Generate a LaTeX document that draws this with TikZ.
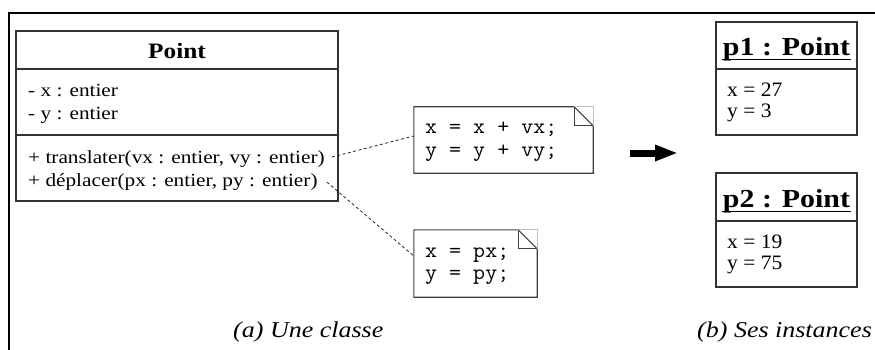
\documentclass[tikz,border=0pt]{standalone}
\usepackage{fontspec}
\setmainfont{Liberation Serif}
\usetikzlibrary{arrows.meta}
\newcommand{\sx}[1]{\scalebox{1.15}[1]{#1}}
\newcommand{\sxc}[1]{\scalebox{1.06}[1]{#1}}
\newcommand{\sxi}[1]{\scalebox{1.05}[1]{#1}}
\tikzset{
  box/.style={draw=black!80, line width=1.1pt, inner sep=0pt, rectangle},
  notebox/.style={draw=black!75, line width=1.1pt},
  faint/.style={draw=black!25, line width=0.8pt},
  txt/.style={anchor=base west, inner sep=0pt, font=\fontsize{18.5}{22}\selectfont},
  itxt/.style={anchor=base west, inner sep=0pt, font=\fontsize{20.5}{24}\selectfont},
  code/.style={anchor=base west, inner sep=0pt, font=\ttfamily\fontsize{22}{26}\selectfont},
  link/.style={draw=black!85, line width=0.8pt, dash pattern=on 3pt off 2.5pt},
  title/.style={anchor=base, inner sep=0pt, font=\bfseries\fontsize{22}{26}\selectfont},
  ititle/.style={anchor=base, inner sep=0pt, font=\bfseries\fontsize{26}{30}\selectfont},
  caption/.style={anchor=base west, inner sep=0pt, font=\itshape\fontsize{22.6}{26}\selectfont},
}
\begin{document}
\begin{tikzpicture}[x=1pt,y=-1pt]
\useasboundingbox (0,0) rectangle (875,350);
% frame
\coordinate (frA) at (875,13);
\coordinate (frB) at (9,13);
\coordinate (frC) at (9,350);
\draw[line width=2.5pt] (frA) -- (frB) -- (frC);

% class Point
\node[box, minimum width=322pt, minimum height=38pt] (cname) at (177,50) {};
\node[box, minimum width=322pt, minimum height=66pt] (cattr) at (177,102) {};
\node[box, minimum width=322pt, minimum height=66pt] (cmeth) at (177,168) {};
\node[title] (cnt) at (177,59) {\sx{Point}};
\node[txt] (a1) at (28,97) {\sx{- x : entier}};
\node[txt] (a2) at (28,120) {\sx{- y : entier}};
\node[txt] (m1) at (28,163) {\sx{+ translater(vx : entier, vy : entier)}};
\node[txt] (m2) at (28,186) {\sx{+ déplacer(px : entier, py : entier)}};

% notes
\node[inner sep=0pt, minimum width=179pt, minimum height=66pt] (n1) at (503.5,140) {};
\draw[notebox] (n1.north west) -- ([xshift=-19pt]n1.north east) -- ([yshift=-19pt]n1.north east) -- (n1.south east) -- (n1.south west) -- cycle;
\draw[notebox] ([xshift=-19pt]n1.north east) -- ([xshift=-19pt,yshift=-19pt]n1.north east) -- ([yshift=-19pt]n1.north east);
\draw[faint] ([xshift=-19pt]n1.north east) -- (n1.north east) -- ([yshift=-19pt]n1.north east);
\node[code] (n1a) at (425,134) {\sxc{x = x + vx;}};
\node[code] (n1b) at (425,157) {\sxc{y = y + vy;}};

\node[inner sep=0pt, minimum width=123pt, minimum height=67pt] (n2) at (475.5,263.5) {};
\draw[notebox] (n2.north west) -- ([xshift=-19pt]n2.north east) -- ([yshift=-19pt]n2.north east) -- (n2.south east) -- (n2.south west) -- cycle;
\draw[notebox] ([xshift=-19pt]n2.north east) -- ([xshift=-19pt,yshift=-19pt]n2.north east) -- ([yshift=-19pt]n2.north east);
\draw[faint] ([xshift=-19pt]n2.north east) -- (n2.north east) -- ([yshift=-19pt]n2.north east);
\node[code] (n2a) at (425,257) {\sxc{x = px;}};
\node[code] (n2b) at (425,279) {\sxc{y = py;}};

% links
\draw[link] ([xshift=7pt,yshift=6pt]m1.base east) -- ([yshift=4pt]n1.west);
\draw[link] ([xshift=9pt,yshift=4pt]m2.base east) -- ([yshift=7.5pt]n2.west);

% arrow
\coordinate (arrS) at (630,153);
\coordinate (arrE) at (678,153);
\draw[line width=7pt, -{Triangle[length=23pt,width=15pt]}] (arrS) -- (arrE);

% instance p1
\node[box, minimum width=141pt, minimum height=47pt] (p1n) at (786.5,45.5) {};
\node[box, minimum width=141pt, minimum height=66pt] (p1a) at (786.5,102) {};
\node[ititle] (p1t) at (786.5,56) {\sx{p1 : Point}};
\draw[line width=1pt] ([shift={(-1pt,-4pt)}]p1t.base west) -- ([shift={(1pt,-4pt)}]p1t.base east);
\node[itxt] (p1x) at (727,97) {\sxi{x = 27}};
\node[itxt] (p1y) at (727,118) {\sxi{y = 3}};

% instance p2
\node[box, minimum width=141pt, minimum height=48pt] (p2n) at (786.5,197) {};
\node[box, minimum width=141pt, minimum height=66pt] (p2a) at (786.5,254) {};
\node[ititle] (p2t) at (786.5,207) {\sx{p2 : Point}};
\draw[line width=1pt] ([shift={(-1pt,-4pt)}]p2t.base west) -- ([shift={(1pt,-4pt)}]p2t.base east);
\node[itxt] (p2x) at (727,248) {\sxi{x = 19}};
\node[itxt] (p2y) at (727,269) {\sxi{y = 75}};

% captions
\node[caption] (capa) at (233,337) {\sx{(a) Une classe}};
\node[caption] (capb) at (697,337) {\sx{(b) Ses instances}};
\end{tikzpicture}
\end{document}
